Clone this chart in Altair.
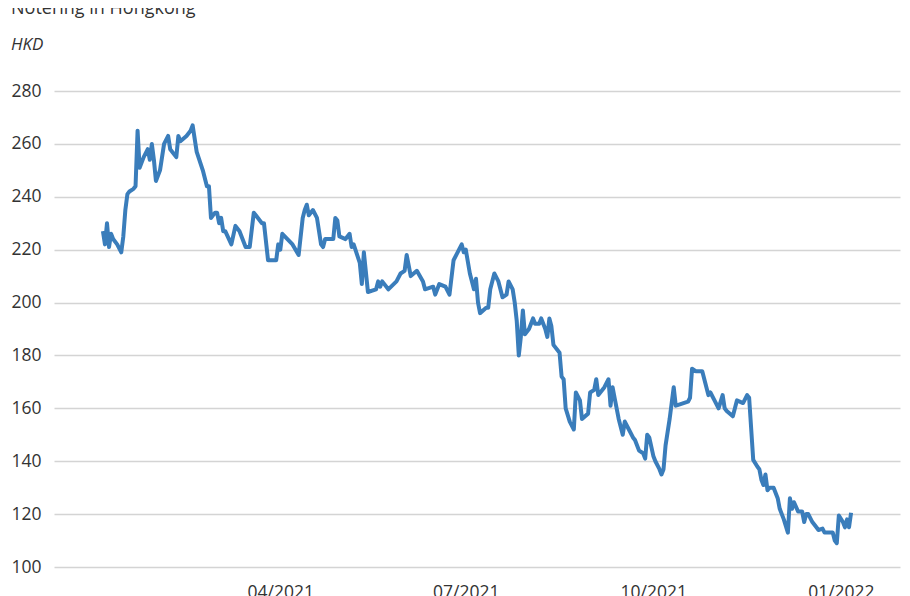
import altair as alt
import pandas as pd

dates = [
    "2021-01-04", "2021-01-05", "2021-01-06", "2021-01-07", "2021-01-08", "2021-01-09", "2021-01-11", "2021-01-13",
    "2021-01-14", "2021-01-15", "2021-01-16", "2021-01-17", "2021-01-19", "2021-01-20", "2021-01-21", "2021-01-22",
    "2021-01-24", "2021-01-26", "2021-01-27", "2021-01-28", "2021-01-29", "2021-01-30", "2021-02-01", "2021-02-03",
    "2021-02-05", "2021-02-06", "2021-02-09", "2021-02-10", "2021-02-11", "2021-02-14", "2021-02-16", "2021-02-17",
    "2021-02-19", "2021-02-22", "2021-02-24", "2021-02-25", "2021-02-26", "2021-02-28", "2021-03-01", "2021-03-02",
    "2021-03-03", "2021-03-04", "2021-03-05", "2021-03-08", "2021-03-10", "2021-03-12", "2021-03-15", "2021-03-17",
    "2021-03-19", "2021-03-20", "2021-03-23", "2021-03-24", "2021-03-26", "2021-03-28", "2021-03-30", "2021-03-31",
    "2021-04-01", "2021-04-02", "2021-04-07", "2021-04-10", "2021-04-12", "2021-04-13", "2021-04-14", "2021-04-15",
    "2021-04-17", "2021-04-19", "2021-04-21", "2021-04-22", "2021-04-23", "2021-04-27", "2021-04-28", "2021-04-29",
    "2021-04-30", "2021-05-03", "2021-05-05", "2021-05-06", "2021-05-07", "2021-05-10", "2021-05-11", "2021-05-12",
    "2021-05-14", "2021-05-18", "2021-05-19", "2021-05-20", "2021-05-21", "2021-05-24", "2021-05-28", "2021-05-30",
    "2021-06-01", "2021-06-02", "2021-06-04", "2021-06-07", "2021-06-10", "2021-06-11", "2021-06-15", "2021-06-16",
    "2021-06-18", "2021-06-21", "2021-06-23", "2021-06-25", "2021-06-29", "2021-06-30", "2021-07-01", "2021-07-03",
    "2021-07-05", "2021-07-06", "2021-07-07", "2021-07-08", "2021-07-11", "2021-07-12", "2021-07-13", "2021-07-15",
    "2021-07-17", "2021-07-19", "2021-07-21", "2021-07-22", "2021-07-24", "2021-07-25", "2021-07-26", "2021-07-27",
    "2021-07-28", "2021-07-29", "2021-07-30", "2021-08-01", "2021-08-03", "2021-08-04", "2021-08-06", "2021-08-07",
    "2021-08-09", "2021-08-10", "2021-08-11", "2021-08-12", "2021-08-13", "2021-08-16", "2021-08-17", "2021-08-18",
    "2021-08-19", "2021-08-21", "2021-08-23", "2021-08-24", "2021-08-26", "2021-08-27", "2021-08-30", "2021-08-31",
    "2021-09-02", "2021-09-03", "2021-09-04", "2021-09-07", "2021-09-09", "2021-09-10", "2021-09-11", "2021-09-12",
    "2021-09-14", "2021-09-16", "2021-09-17", "2021-09-19", "2021-09-21", "2021-09-22", "2021-09-24", "2021-09-26",
    "2021-09-27", "2021-09-28", "2021-09-29", "2021-10-01", "2021-10-02", "2021-10-04", "2021-10-05", "2021-10-06",
    "2021-10-07", "2021-10-09", "2021-10-10", "2021-10-11", "2021-10-12", "2021-10-14", "2021-10-18", "2021-10-19",
    "2021-10-20", "2021-10-22", "2021-10-25", "2021-10-28", "2021-10-29", "2021-10-31", "2021-11-02", "2021-11-04",
    "2021-11-05", "2021-11-06", "2021-11-09", "2021-11-11", "2021-11-14", "2021-11-16", "2021-11-17", "2021-11-19",
    "2021-11-21", "2021-11-22", "2021-11-23", "2021-11-24", "2021-11-25", "2021-11-26", "2021-11-27", "2021-11-29",
    "2021-12-01", "2021-12-02", "2021-12-04", "2021-12-06", "2021-12-07", "2021-12-08", "2021-12-09", "2021-12-11",
    "2021-12-13", "2021-12-14", "2021-12-15", "2021-12-16", "2021-12-18", "2021-12-20", "2021-12-21", "2021-12-23",
    "2021-12-24", "2021-12-27", "2021-12-28", "2021-12-29", "2021-12-30", "2021-12-31", "2022-01-02", "2022-01-03",
    "2022-01-04", "2022-01-05", "2022-01-06",
]

prices = [
    227, 222, 230, 221, 226, 224, 222, 219,
    225, 235, 241, 242, 243, 244, 265, 251,
    255, 258, 254, 260, 254, 246, 250, 260,
    263, 258, 255, 263, 261, 263, 265, 267,
    257, 250, 244, 244, 232, 234, 234, 230,
    232, 227, 227, 222, 229, 227, 221, 221,
    234, 233, 230, 230, 216, 216, 216, 222,
    220, 226, 222, 218, 232, 235, 237, 233,
    235, 232, 222, 221, 224, 224, 232, 231,
    225, 224, 226, 221, 222, 215, 207, 219,
    204, 205, 208, 206, 208, 205, 208, 211,
    212, 218, 210, 212, 208, 205, 206, 203,
    207, 206, 203, 216, 222, 219, 220, 211,
    205, 209, 200, 196, 198, 198, 205, 211,
    208, 202, 203, 208, 205, 200, 193, 180,
    187, 197, 188, 190, 194, 192, 192, 194,
    190, 187, 194, 191, 184, 181, 172, 171,
    160, 155, 152, 166, 163, 156, 158, 166,
    167, 171, 165, 168, 171, 161, 168, 164,
    156, 150, 155, 152, 149, 148, 144, 143,
    141, 150, 149, 142, 140, 137, 135, 137,
    146, 156, 162, 168, 161, 161.5, 162.5, 164,
    175, 174, 174, 165, 166, 163, 160, 165,
    160, 159, 157, 163, 162, 165, 164, 140.5,
    138, 137, 133, 131, 135, 129, 130, 130,
    126, 122, 118, 113, 126, 122, 124.5, 121,
    121, 117, 120, 120, 117, 115, 114, 114.5,
    113, 113, 113, 110, 109, 119.5, 117, 115,
    118, 115, 120.5,
]

y_ticks = [100, 120, 140, 160, 180, 200, 220, 240, 260, 280]
x_ticks = [(2021, 4), (2021, 7), (2021, 10), (2022, 1)]
title_text = ["Notering in Hongkong"]
unit_text = ["HKD"]

df = pd.DataFrame({"date": dates, "price": prices})

FONT = "Open Sans"
TEXT_COLOR = "#333333"

line = alt.Chart(df).mark_line(
    color="#3a7dbb", strokeWidth=4, strokeJoin="round"
).encode(
    x=alt.X(
        "date:T",
        scale=alt.Scale(
            type="utc",
            domain=[
                alt.DateTime(year=2020, month=12, date=11, utc=True),
                alt.DateTime(year=2022, month=1, date=30, utc=True),
            ],
        ),
        axis=alt.Axis(
            values=[alt.DateTime(year=y, month=m, date=1, utc=True) for y, m in x_ticks],
            format="%m/%Y",
            title=None,
            grid=False,
            domain=False,
            ticks=False,
            labelPadding=16,
            labelFontSize=17.5,
            labelFont=FONT,
            labelColor=TEXT_COLOR,
        ),
    ),
    y=alt.Y(
        "price:Q",
        scale=alt.Scale(domain=[100, 280], nice=False, zero=False),
        axis=alt.Axis(
            values=y_ticks,
            title=None,
            domain=False,
            ticks=False,
            grid=True,
            gridColor="#d4d4d4",
            gridWidth=1.5,
            labelPadding=13,
            labelFontSize=17.5,
            labelFont=FONT,
            labelColor=TEXT_COLOR,
        ),
    ),
)

title = alt.Chart(pd.DataFrame({"t": title_text})).mark_text(
    align="left", baseline="alphabetic", fontSize=18, font=FONT, color=TEXT_COLOR
).encode(x=alt.value(-43), y=alt.value(-77), text="t:N")

unit = alt.Chart(pd.DataFrame({"t": unit_text})).mark_text(
    align="left", baseline="alphabetic", fontSize=17, font=FONT, fontStyle="italic", color=TEXT_COLOR
).encode(x=alt.value(-43), y=alt.value(-41), text="t:N")

chart = alt.layer(line, title, unit).properties(
    width=846,
    height=476,
    autosize=alt.AutoSizeParams(type="none"),
    padding={"left": 46, "top": 83, "right": 2, "bottom": 30},
).configure_view(stroke=None)

chart.save("out.html", embed_options={"renderer": "svg", "actions": False})
